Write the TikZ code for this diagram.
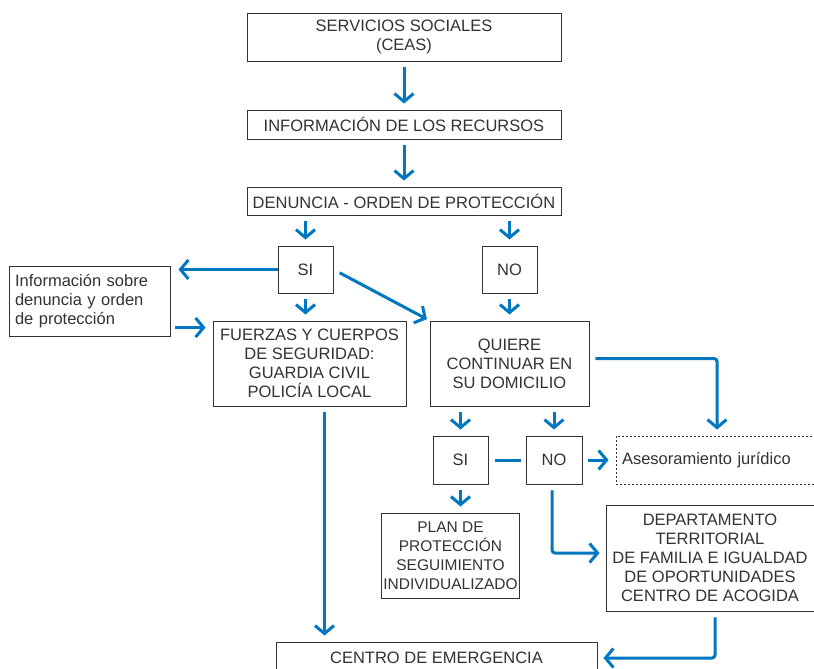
\documentclass[tikz,border=0pt]{standalone}
\usepackage{fontspec}
\setsansfont{Liberation Sans}
\usetikzlibrary{arrows.meta}
\usetikzlibrary{calc}
\definecolor{flowBlue}{RGB}{0,119,192}
\definecolor{boxGray}{RGB}{50,50,50}

\begin{document}
\begin{tikzpicture}[x = 1pt, y = -1pt, font=\sffamily\fontsize{16.5}{19}\selectfont]
	\tikzstyle{boxStyle}=[draw = boxGray, line width = 0.9pt, text = boxGray, align = center, inner sep = 2pt]
	\tikzstyle{dashedStyle}=[boxStyle, dash pattern = on 2pt off 2pt]
	\tikzstyle{arrowStyle}=[draw = flowBlue, line width = 3pt, -{Straight Barb[length = 8pt, width = 19pt]}, shorten < = 6pt, shorten > = 6pt]
	\tikzstyle{lineStyle}=[draw = flowBlue, line width = 3pt]
	\useasboundingbox (0, 0) rectangle (814, 669);
	\node[boxStyle, minimum width = 314pt, minimum height = 48pt] (v0) at (404, 37) {SERVICIOS SOCIALES\\(CEAS)};
	\node[boxStyle, minimum width = 314pt, minimum height = 29pt] (v1) at (404, 124.5) {INFORMACIÓN DE LOS RECURSOS};
	\node[boxStyle, minimum width = 314pt, minimum height = 28pt] (v2) at (404, 201) {DENUNCIA - ORDEN DE PROTECCIÓN};
	\node[boxStyle, minimum width = 55pt, minimum height = 47pt] (v3) at (305.5, 269.5) {SI};
	\node[boxStyle, minimum width = 55pt, minimum height = 47pt] (v4) at (509.5, 269.5) {NO};
	\node[boxStyle, align = left, text width = 149pt, inner xsep = 6pt, minimum height = 70pt] (v5) at (89.5, 301) {Información sobre\\denuncia y orden\\de protección};
	\node[boxStyle, minimum width = 193pt, minimum height = 85pt] (v6) at (309.5, 363.5) {FUERZAS Y CUERPOS\\DE SEGURIDAD:\\GUARDIA CIVIL\\POLICÍA LOCAL};
	\node[boxStyle, minimum width = 159pt, minimum height = 85pt] (v7) at (509.5, 363.5) {QUIERE\\CONTINUAR EN\\SU DOMICILIO};
	\node[boxStyle, minimum width = 55pt, minimum height = 48pt] (v8) at (460.5, 460) {SI};
	\node[boxStyle, minimum width = 56pt, minimum height = 48pt] (v9) at (554, 460) {NO};
	\node[dashedStyle, minimum width = 202pt, minimum height = 48pt, align = left, text width = 190pt, inner xsep = 6pt] (v10) at (717, 460) {Asesoramiento jurídico};
	\node[boxStyle, minimum width = 137pt, minimum height = 85pt, font = \sffamily\fontsize{15.5}{19}\selectfont] (v11) at (450.5, 555.5) {PLAN DE\\PROTECCIÓN\\SEGUIMIENTO\\INDIVIDUALIZADO};
	\node[boxStyle, minimum width = 208pt, minimum height = 106pt] (v12) at (710, 558) {DEPARTAMENTO\\TERRITORIAL\\DE FAMILIA E IGUALDAD\\DE OPORTUNIDADES\\CENTRO DE ACOGIDA};
	\node[boxStyle, minimum width = 321pt, minimum height = 32pt] (v13) at (436.5, 658) {CENTRO DE EMERGENCIA};
	\coordinate (c0) at ([xshift = 15pt]v6.south);
	\draw[arrowStyle] (v0) -- (v1);
	\draw[arrowStyle] (v1) -- (v2);
	\draw[arrowStyle] (v3 |- v2.south) -- (v3);
	\draw[arrowStyle] (v4 |- v2.south) -- (v4);
	\draw[arrowStyle, shorten < = 0pt, shorten > = 8pt] (v3.west) -- (v5.east |- v3.west);
	\draw[arrowStyle] (v3.south) -- (v3.south |- v6.north);
	\draw[arrowStyle, shorten < = 7pt, shorten > = 3pt] (v3.east) -- (v7.north west);
	\draw[arrowStyle] (v4) -- (v7);
	\draw[arrowStyle, shorten < = 5pt, shorten > = 7pt] ($(v5.east |- v6.north west) + (0, 7)$) -- ($(v6.north west) + (0, 7)$);
	\draw[arrowStyle, rounded corners = 3pt] ($(v7.east) + (0, -5)$) -| (v10);
	\draw[arrowStyle] (v8 |- v7.south) -- (v8);
	\draw[arrowStyle] (v9 |- v7.south) -- (v9);
	\draw[lineStyle, shorten < = 7pt, shorten > = 5pt] (v8) -- (v9);
	\draw[arrowStyle, shorten > = 7pt] (v9) -- (v10);
	\draw[arrowStyle] (v8.south) -- (v8.south |- v11.north);
	\draw[arrowStyle, rounded corners = 3pt] ($(v9.south) + (-2, 0)$) |- ($(v12.west) + (0, -5)$);
	\draw[arrowStyle] (c0) -- (c0 |- v13.north);
	\draw[arrowStyle, rounded corners = 3pt] ($(v12.south) + (5, 0)$) |- (v13);
\end{tikzpicture}
\end{document}
